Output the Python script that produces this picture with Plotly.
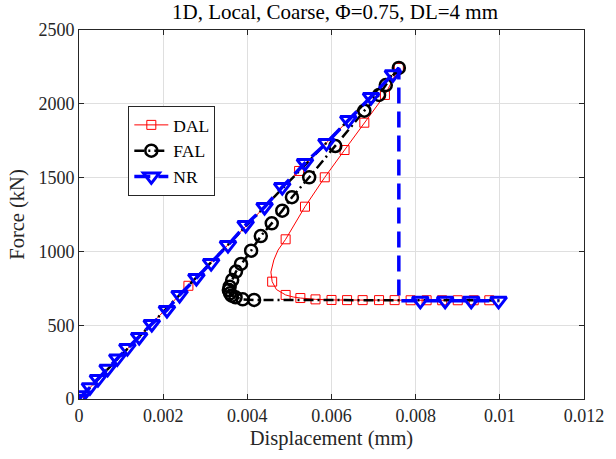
import plotly.graph_objects as go

# ---------------- data ----------------
x_ticks = [0, 0.002, 0.004, 0.006, 0.008, 0.010, 0.012]
x_tick_labels = ["0", "0.002", "0.004", "0.006", "0.008", "0.01", "0.012"]
y_ticks = [0, 500, 1000, 1500, 2000, 2500]
y_tick_labels = ["0", "500", "1000", "1500", "2000", "2500"]

# DAL (path, and which points carry a marker)
dal_x = [0, 0.0026, 0.00523, 0.0076, 0.00727, 0.00678, 0.00631, 0.00584, 0.00537,
         0.00491, 0.00473, 0.00463, 0.00456, 0.00459, 0.00469, 0.00491, 0.00509,
         0.00526, 0.00562, 0.0060, 0.00637, 0.00674, 0.00713, 0.00750, 0.00788,
         0.00826, 0.00863, 0.0090, 0.00938, 0.00975]
dal_y = [0, 767, 1545, 2243, 2060, 1872, 1687, 1502, 1303,
         1082, 1009, 942, 860, 795, 742, 705, 691,
         684, 675, 671, 670, 670, 670, 670, 669,
         669, 669, 669, 669, 669]
dal_marked = [0, 1, 2, 3, 4, 5, 6, 7, 8, 9, 13, 15, 17, 18, 19, 20, 21, 22, 23,
              24, 25, 26, 27, 28, 29]

# FAL
fal_x = [0, 0.0076, 0.00729, 0.00713, 0.00678, 0.00609, 0.00547, 0.00506, 0.00483,
         0.00458, 0.00432, 0.00409, 0.00385, 0.00373, 0.00364, 0.00358, 0.00356,
         0.00359, 0.00363, 0.00372, 0.00389, 0.00416, 0.0100]
fal_y = [0, 2243, 2127, 2060, 1953, 1714, 1502, 1367, 1276,
         1190, 1104, 1005, 915, 863, 806, 761, 738,
         716, 700, 689, 675, 671, 668]
fal_marked = list(range(1, 22))

# NR
nr_x = [0, 0.00008, 0.00026, 0.00045, 0.00068, 0.00091, 0.00115, 0.00143, 0.00173,
        0.00209, 0.00239, 0.00279, 0.00314, 0.00354, 0.00396, 0.00441, 0.00483,
        0.00537, 0.00588, 0.0064, 0.00694, 0.00746, 0.0076, 0.0076, 0.00811,
        0.0087, 0.00932, 0.00997]
nr_y = [0, 25, 80, 135, 205, 275, 345, 420, 508,
        603, 705, 820, 921, 1043, 1179, 1301, 1436,
        1599, 1734, 1890, 2046, 2200, 2243, 665, 665,
        665, 665, 665]
nr_marked = list(range(0, 22)) + [24, 25, 26, 27]

# ---------------- figure ----------------
FONT = "Liberation Serif"
fig = go.Figure()

def add_series(name, xs, ys, marked, color, lw, dash, symbol, msize, mlw):
    fig.add_trace(go.Scatter(x=xs, y=ys, mode="lines", showlegend=False,
                             line=dict(color=color, width=lw, dash=dash),
                             hoverinfo="skip"))
    fig.add_trace(go.Scatter(x=[xs[i] for i in marked], y=[ys[i] for i in marked],
                             mode="markers", showlegend=False,
                             marker=dict(symbol=symbol, size=msize, color=color,
                                         line=dict(color=color, width=mlw))))
    fig.add_trace(go.Scatter(x=[None], y=[None], mode="lines+markers", name=name,
                             line=dict(color=color, width=lw, dash=dash),
                             marker=dict(symbol=symbol, size=msize, color=color,
                                         line=dict(color=color, width=mlw))))

add_series("DAL", dal_x, dal_y, dal_marked, "#ff0000", 1, "solid",
           "square-open", 9, 1)
add_series("FAL", fal_x, fal_y, fal_marked, "#000000", 2.5, "10px,4px,2px,4px",
           "circle-open", 12, 2.5)
add_series("NR", nr_x, nr_y, nr_marked, "#0000ff", 3.5, "16px,8px",
           "triangle-down-open", 14, 3)

axis_common = dict(
    showgrid=True, gridcolor="#dfdfdf", gridwidth=1,
    showline=True, linecolor="#262626", linewidth=1, mirror="allticks",
    ticks="inside", ticklen=5, tickcolor="#262626",
    tickfont=dict(family=FONT, size=18, color="#262626"),
    zeroline=False,
)
fig.update_xaxes(range=[0, 0.012], tickvals=x_ticks, ticktext=x_tick_labels,
                 title=dict(text="Displacement (mm)", font=dict(family=FONT, size=20.5, color="#262626"),
                            standoff=6),
                 **axis_common)
fig.update_yaxes(range=[0, 2500], tickvals=y_ticks, ticktext=y_tick_labels,
                 title=dict(text="Force (kN)", font=dict(family=FONT, size=20.5, color="#262626"),
                            standoff=8),
                 **axis_common)

fig.update_layout(
    width=616, height=459,
    margin=dict(l=79, r=25, t=30, b=60),
    paper_bgcolor="white", plot_bgcolor="white",
    title=dict(text="1D, Local, Coarse, \u03a6=0.75, DL=4 mm",
               font=dict(family=FONT, size=21, color="#000000"),
               x=(79 + 591) / 2 / 616, xanchor="center", y=1 - 12 / 459, yanchor="middle"),
    legend=dict(x=(129 - 79) / 512, y=(399 - 106) / 369, xanchor="left", yanchor="top",
                bgcolor="white", bordercolor="#262626", borderwidth=1,
                font=dict(family=FONT, size=17.5, color="#000000"),
                tracegroupgap=0, itemwidth=34),
    showlegend=True,
)

fig.write_html("out.html")
